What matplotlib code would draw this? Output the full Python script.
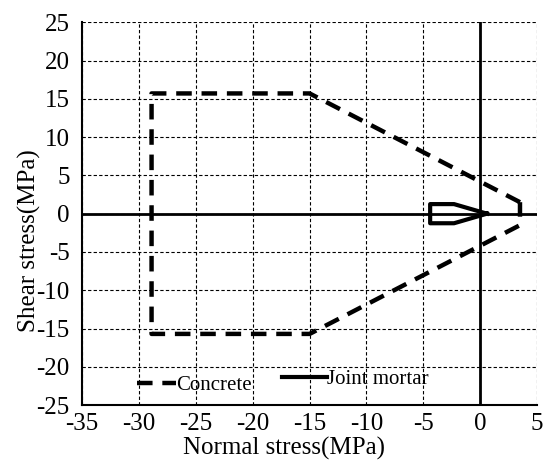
import matplotlib
matplotlib.use("Agg")
import matplotlib.pyplot as plt

plt.rcParams['font.family'] = ['Liberation Serif', 'DejaVu Serif']
plt.rcParams['axes.unicode_minus'] = False

# Failure envelopes (normal stress, shear stress) in MPa
concrete_x = [3.5, -15, -28.9, -28.9, -15, 3.5, 3.5]
concrete_y = [1.5, 15.7, 15.7, -15.7, -15.7, -1.5, 1.5]

mortar_x = [0.6, -2.3, -4.4, -4.4, -2.3, 0.6]
mortar_y = [0, 1.25, 1.25, -1.25, -1.25, 0]

x_ticks = [-35, -30, -25, -20, -15, -10, -5, 0, 5]
y_ticks = [-25, -20, -15, -10, -5, 0, 5, 10, 15, 20, 25]

fig = plt.figure(figsize=(5.48, 4.63), dpi=100)
ax = fig.add_axes([0.150, 0.125, 0.830, 0.827])

ax.set_xlim(-35, 5)
ax.set_ylim(-25, 25)
ax.set_xticks(x_ticks)
ax.set_yticks(y_ticks)
ax.tick_params(axis='x', length=0, labelsize=18, pad=6)
ax.tick_params(axis='y', length=0, labelsize=18, pad=9)
ax.grid(True, color='black', linestyle=(0, (3, 2)), linewidth=0.8)
ax.set_axisbelow(True)

for s in ['top', 'right']:
    ax.spines[s].set_visible(False)
for s in ['left', 'bottom']:
    ax.spines[s].set_linewidth(1.5)

ax.axhline(0, color='black', linewidth=2)
ax.axvline(0, color='black', linewidth=2)

conc_line, = ax.plot(concrete_x, concrete_y, color='black', linewidth=3.2,
                     linestyle=(0, (3.5, 2.2)))
mort_line, = ax.plot(mortar_x, mortar_y, color='black', linewidth=3)

ax.set_xlabel('Normal stress(MPa)', fontsize=18)
ax.set_ylabel('Shear stress(MPa)', fontsize=18)
ax.xaxis.set_label_coords(0.444, -0.083)
ax.yaxis.set_label_coords(-0.090, 0.43)

# two separate legend entries, as in the original
leg1 = ax.legend([conc_line], ['Concrete'], loc='center left',
                 bbox_to_anchor=(0.121, 0.052), frameon=False, fontsize=15,
                 handlelength=1.85, handletextpad=0.0, borderpad=0,
                 borderaxespad=0)
ax.add_artist(leg1)
ax.legend([mort_line], ['Joint mortar'], loc='center left',
          bbox_to_anchor=(0.44, 0.068), frameon=False, fontsize=15,
          handlelength=2.15, handletextpad=0.0, borderpad=0, borderaxespad=0)

fig.savefig('out.png', dpi=100)
